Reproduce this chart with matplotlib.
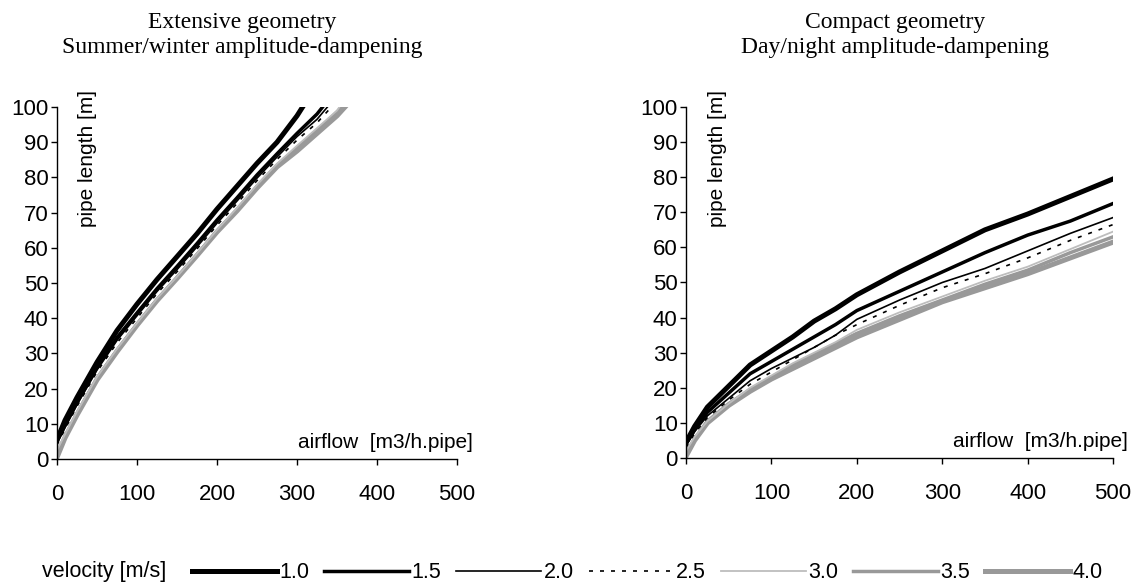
import numpy as np
import matplotlib
matplotlib.use("Agg")
import matplotlib.pyplot as plt

# velocities [m/s]
velocities = ["1.0", "1.5", "2.0", "2.5", "3.0", "3.5", "4.0"]

# Extensive geometry - summer/winter amplitude-dampening
ext_x = {
    "1.0": [0, 10, 25, 50, 75, 100, 125, 150, 175, 200, 225, 250, 275, 300, 307],
    "1.5": [0, 10, 25, 50, 75, 100, 125, 150, 175, 200, 225, 250, 275, 300, 325, 332],
    "2.0": [0, 10, 25, 50, 75, 100, 125, 150, 175, 200, 225, 250, 275, 300, 325, 338],
    "2.5": [0, 10, 25, 50, 75, 100, 125, 150, 175, 200, 225, 250, 275, 300, 325, 343],
    "3.0": [0, 10, 25, 50, 75, 100, 125, 150, 175, 200, 225, 250, 275, 300, 325, 350, 353],
    "3.5": [0, 10, 25, 50, 75, 100, 125, 150, 175, 200, 225, 250, 275, 300, 325, 350, 356],
    "4.0": [0, 10, 25, 50, 75, 100, 125, 150, 175, 200, 225, 250, 275, 300, 325, 350, 360],
}
ext_y = {
    "1.0": [5.5, 11, 17.5, 27.5, 36.5, 44, 51, 57.5, 64, 71, 77.5, 84, 90, 97.5, 100],
    "1.5": [5, 9.5, 16, 26, 34.5, 41.5, 48.4, 54.7, 61.2, 67.9, 74.2, 80.7, 86.7, 92.5, 98, 100],
    "2.0": [4.5, 9, 15.5, 25.3, 33.7, 40.7, 47.6, 53.8, 60.3, 67, 73.3, 79.8, 85.8, 91.6, 96.5, 100],
    "2.5": [4, 8.5, 15, 24.8, 33, 40, 47, 53.2, 59.7, 66.4, 72.6, 79.1, 85.1, 90.6, 95.5, 100],
    "3.0": [2.5, 7, 13.5, 23.3, 31.3, 38.6, 45.6, 51.8, 58.4, 65.1, 71.3, 77.9, 83.9, 89, 94, 99, 100],
    "3.5": [1.5, 6.5, 13, 23, 31, 38.3, 45.3, 51.5, 58.1, 64.8, 70.9, 77.5, 83.5, 88.3, 93.3, 98.6, 100],
    "4.0": [0.5, 6, 12.5, 22.5, 30.5, 38, 45, 51.3, 57.8, 64.5, 70.5, 77, 83, 87.5, 92.5, 97.5, 100],
}

# Compact geometry - day/night amplitude-dampening
cmp_x = [0, 10, 25, 50, 75, 100, 125, 150, 175, 200, 250, 300, 350, 400, 450, 500]
cmp_y = {
    "1.0": [4.5, 9, 14.5, 20.5, 26.5, 30.5, 34.5, 39, 42.5, 46.5, 53, 59, 65, 69.5, 74.5, 79.5],
    "1.5": [4, 8, 13, 18.5, 24, 27.5, 31, 34.5, 38, 42, 47.5, 53, 58.5, 63.5, 67.5, 72.5],
    "2.0": [3.5, 7.5, 12, 17, 22, 25.5, 28.5, 31.5, 35, 39.5, 45, 50, 54, 59, 64, 68.5],
    "2.5": [3, 7, 11.5, 16.5, 21, 24.5, 28, 31.5, 35, 38, 43.5, 48.5, 52.5, 57, 62, 66.5],
    "3.0": [2, 6, 10.5, 15.5, 20, 23.5, 27, 30, 33, 36.5, 41.5, 46, 50.5, 54.5, 59.5, 64.5],
    "3.5": [1, 5.5, 10.5, 15.5, 19.5, 23, 26.5, 29.5, 32.5, 35.5, 40.5, 45, 49.5, 53.5, 58.5, 63],
    "4.0": [0.5, 5, 10, 15, 19, 22.5, 25.5, 28.5, 31.5, 34.5, 39.5, 44.5, 48.5, 52.5, 57, 61.5],
}

styles = {
    "1.0": dict(color="black", lw=3.6, ls="-"),
    "1.5": dict(color="black", lw=2.5, ls="-"),
    "2.0": dict(color="black", lw=1.2, ls="-"),
    "2.5": dict(color="black", lw=1.2, ls=(0, (2.4, 4.2))),
    "3.0": dict(color="#bdbdbd", lw=1.3, ls="-"),
    "3.5": dict(color="#999999", lw=2.5, ls="-"),
    "4.0": dict(color="#999999", lw=3.6, ls="-"),
}

plt.rcParams["font.family"] = ["Liberation Sans", "DejaVu Sans"]

fig = plt.figure(figsize=(11.36, 5.85), dpi=100)
ax1 = fig.add_axes([0.0502, 0.2154, 0.3521, 0.6017])
ax2 = fig.add_axes([0.6039, 0.2171, 0.3759, 0.6000])


def style_axes(ax, ylabel_x, airflow_x):
    ax.set_xlim(0, 500)
    ax.set_ylim(0, 100)
    ax.set_xticks(np.arange(0, 501, 100))
    ax.set_yticks(np.arange(0, 101, 10))
    for s in ["top", "right"]:
        ax.spines[s].set_visible(False)
    for s in ["left", "bottom"]:
        ax.spines[s].set_color("black")
        ax.spines[s].set_linewidth(1.0)
    ax.tick_params(axis="x", direction="out", length=4, width=1, pad=14, labelsize=16)
    ax.tick_params(axis="y", direction="out", length=4, width=1, pad=2, labelsize=16)
    ax.text(ylabel_x, 1.048, "pipe length [m]", transform=ax.transAxes,
            rotation=90, ha="center", va="top", fontsize=15)
    ax.text(airflow_x, 0.048, "airflow  [m3/h.pipe]", transform=ax.transAxes,
            ha="right", va="center", fontsize=15)


handles = []
for v in reversed(velocities):
    ax1.plot(ext_x[v], ext_y[v], **styles[v])
    ax2.plot(cmp_x, cmp_y[v], **styles[v])

for v in velocities:
    h, = ax1.plot([], [], label=v, **styles[v])
    handles.append(h)

style_axes(ax1, 0.075, 1.04)
style_axes(ax2, 0.073, 1.035)

fig.text(242 / 1136, 1 - 35 / 585,
         "Extensive geometry\nSummer/winter amplitude-dampening",
         ha="center", va="center", fontsize=17, family="Liberation Serif",
         linespacing=1.2)
fig.text(895 / 1136, 1 - 35 / 585,
         "Compact geometry\nDay/night amplitude-dampening",
         ha="center", va="center", fontsize=17, family="Liberation Serif",
         linespacing=1.2)

# legend
fig.text(42 / 1136, 1 - 572 / 585, "velocity [m/s]", ha="left", va="center", fontsize=15.5)
fig.legend(handles=handles, loc="center left", bbox_to_anchor=(192 / 1136, 1 - 573 / 585),
           ncol=7, frameon=False, fontsize=15.5, handlelength=3.95, handletextpad=0.1,
           columnspacing=0.7, borderpad=0, borderaxespad=0)

fig.savefig("out.png", dpi=100)
